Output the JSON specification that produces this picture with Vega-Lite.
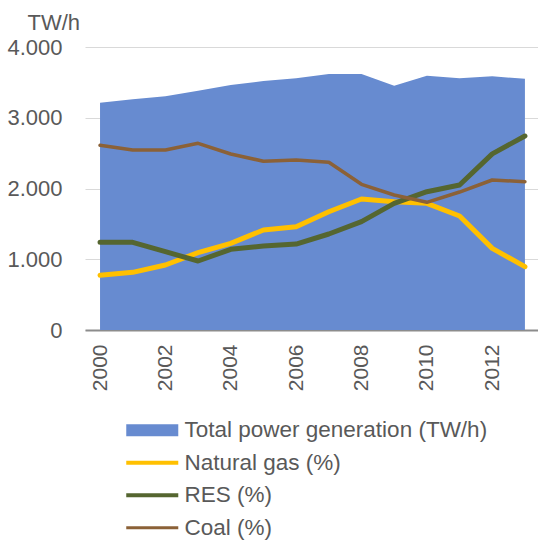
{
  "$schema": "https://vega.github.io/schema/vega-lite/v6.json",
  "width": 453,
  "height": 283,
  "autosize": {"type": "none"},
  "padding": {"left": 85, "top": 47, "right": 0, "bottom": 210},
  "background": "white",
  "config": {
    "view": {"stroke": null},
    "font": "Liberation Sans",
    "axis": {"labelColor": "#595959", "titleColor": "#595959", "labelFont": "Liberation Sans", "titleFont": "Liberation Sans"}
  },
  "data": {
    "values": [
      {"year": 2000, "series": "Total power generation (TW/h)", "value": 3213},
      {"year": 2001, "series": "Total power generation (TW/h)", "value": 3260},
      {"year": 2002, "series": "Total power generation (TW/h)", "value": 3303},
      {"year": 2003, "series": "Total power generation (TW/h)", "value": 3383},
      {"year": 2004, "series": "Total power generation (TW/h)", "value": 3463},
      {"year": 2005, "series": "Total power generation (TW/h)", "value": 3519},
      {"year": 2006, "series": "Total power generation (TW/h)", "value": 3557},
      {"year": 2007, "series": "Total power generation (TW/h)", "value": 3618},
      {"year": 2008, "series": "Total power generation (TW/h)", "value": 3618},
      {"year": 2009, "series": "Total power generation (TW/h)", "value": 3453},
      {"year": 2010, "series": "Total power generation (TW/h)", "value": 3595},
      {"year": 2011, "series": "Total power generation (TW/h)", "value": 3557},
      {"year": 2012, "series": "Total power generation (TW/h)", "value": 3585},
      {"year": 2013, "series": "Total power generation (TW/h)", "value": 3552},
      {"year": 2000, "series": "Natural gas (%)", "value": 775},
      {"year": 2001, "series": "Natural gas (%)", "value": 815},
      {"year": 2002, "series": "Natural gas (%)", "value": 919},
      {"year": 2003, "series": "Natural gas (%)", "value": 1093},
      {"year": 2004, "series": "Natural gas (%)", "value": 1225},
      {"year": 2005, "series": "Natural gas (%)", "value": 1413},
      {"year": 2006, "series": "Natural gas (%)", "value": 1460},
      {"year": 2007, "series": "Natural gas (%)", "value": 1672},
      {"year": 2008, "series": "Natural gas (%)", "value": 1852},
      {"year": 2009, "series": "Natural gas (%)", "value": 1814},
      {"year": 2010, "series": "Natural gas (%)", "value": 1790},
      {"year": 2011, "series": "Natural gas (%)", "value": 1611},
      {"year": 2012, "series": "Natural gas (%)", "value": 1154},
      {"year": 2013, "series": "Natural gas (%)", "value": 895},
      {"year": 2000, "series": "RES (%)", "value": 1239},
      {"year": 2001, "series": "RES (%)", "value": 1239},
      {"year": 2002, "series": "RES (%)", "value": 1107},
      {"year": 2003, "series": "RES (%)", "value": 975},
      {"year": 2004, "series": "RES (%)", "value": 1140},
      {"year": 2005, "series": "RES (%)", "value": 1187},
      {"year": 2006, "series": "RES (%)", "value": 1215},
      {"year": 2007, "series": "RES (%)", "value": 1357},
      {"year": 2008, "series": "RES (%)", "value": 1531},
      {"year": 2009, "series": "RES (%)", "value": 1790},
      {"year": 2010, "series": "RES (%)", "value": 1955},
      {"year": 2011, "series": "RES (%)", "value": 2049},
      {"year": 2012, "series": "RES (%)", "value": 2490},
      {"year": 2013, "series": "RES (%)", "value": 2742},
      {"year": 2000, "series": "Coal (%)", "value": 2610},
      {"year": 2001, "series": "Coal (%)", "value": 2545},
      {"year": 2002, "series": "Coal (%)", "value": 2545},
      {"year": 2003, "series": "Coal (%)", "value": 2639},
      {"year": 2004, "series": "Coal (%)", "value": 2488},
      {"year": 2005, "series": "Coal (%)", "value": 2385},
      {"year": 2006, "series": "Coal (%)", "value": 2403},
      {"year": 2007, "series": "Coal (%)", "value": 2370},
      {"year": 2008, "series": "Coal (%)", "value": 2059},
      {"year": 2009, "series": "Coal (%)", "value": 1908},
      {"year": 2010, "series": "Coal (%)", "value": 1805},
      {"year": 2011, "series": "Coal (%)", "value": 1950},
      {"year": 2012, "series": "Coal (%)", "value": 2120},
      {"year": 2013, "series": "Coal (%)", "value": 2096}
    ]
  },
  "encoding": {
    "x": {
      "field": "year", "type": "quantitative",
      "scale": {"domain": [1999.54, 2013.4], "nice": false, "zero": false},
      "axis": {
        "values": [2000, 2002, 2004, 2006, 2008, 2010, 2012],
        "format": "d", "labelAngle": -90, "labelFontSize": 21, "labelPadding": 14,
        "ticks": false, "grid": false, "title": null,
        "domainColor": "#8c8c8c", "domainWidth": 2, "labelFlush": false, "labelOverlap": false
      }
    },
    "y": {
      "field": "value", "type": "quantitative",
      "scale": {"domain": [0, 4000], "nice": false},
      "axis": {
        "values": [0, 1000, 2000, 3000, 4000],
        "labelExpr": "replace(format(datum.value, ','), ',', '.')",
        "labelFontSize": 22, "labelPadding": 23, "ticks": false, "domain": false,
        "gridColor": "#d9d9d9", "gridWidth": 1,
        "title": "TW/h", "titleAngle": 0, "titleAlign": "left", "titleBaseline": "alphabetic",
        "titleX": -58, "titleY": -18, "titleFontSize": 22, "titleFontWeight": "normal"
      }
    },
    "color": {
      "field": "series", "type": "nominal",
      "scale": {
        "domain": ["Total power generation (TW/h)", "Natural gas (%)", "RES (%)", "Coal (%)"],
        "range": ["#678bd0", "#ffc000", "#556630", "#8b6137"]
      },
      "legend": {
        "title": null, "orient": "none", "legendX": 36, "legendY": 372,
        "direction": "vertical",
        "labelFontSize": 22.5, "labelColor": "#595959", "labelFont": "Liberation Sans",
        "labelLimit": 0, "labelOffset": 41, "rowPadding": 9.5, "symbolSize": 144,
        "encode": {
          "symbols": {
            "update": {
              "shape": [
                {"test": "datum.value === 'Total power generation (TW/h)'", "value": "M-1,-1H7.67V1H-1Z"},
                {"test": "datum.value === 'Coal (%)'", "value": "M-1,-0.25H7.67V0.25H-1Z"},
                {"value": "M-1,-0.35H7.67V0.35H-1Z"}
              ],
              "fill": {"scale": "color", "field": "value"},
              "stroke": {"value": "transparent"},
              "strokeWidth": {"value": 0},
              "opacity": {"value": 1}
            }
          }
        }
      }
    }
  },
  "layer": [
    {
      "transform": [{"filter": "datum.series === 'Total power generation (TW/h)'"}],
      "mark": {"type": "area", "opacity": 1}
    },
    {
      "transform": [{"filter": "datum.series !== 'Total power generation (TW/h)'"}],
      "mark": {"type": "line", "strokeCap": "round", "strokeJoin": "round"},
      "encoding": {
        "strokeWidth": {
          "condition": {"test": "datum.series === 'Coal (%)'", "value": 3.5},
          "value": 5
        }
      }
    }
  ]
}
